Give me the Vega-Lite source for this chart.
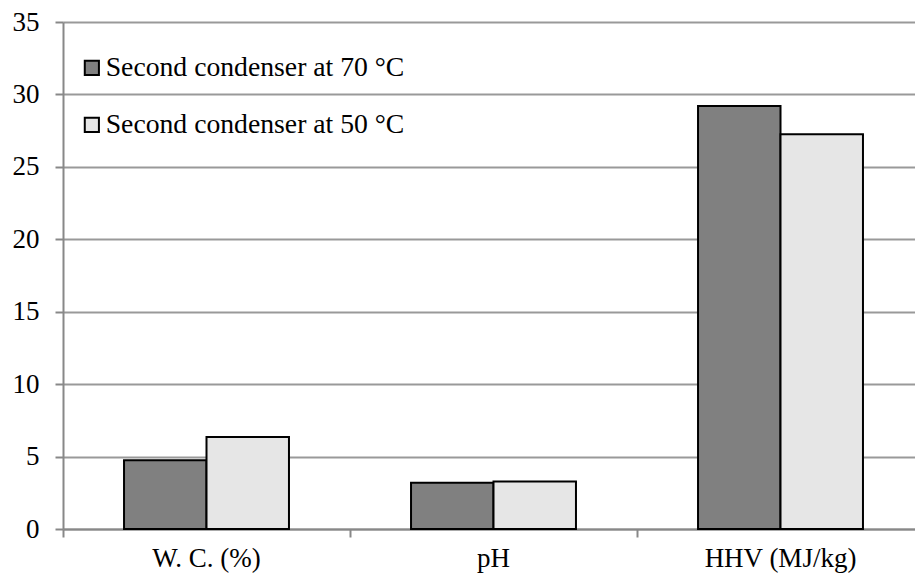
{
  "$schema": "https://vega.github.io/schema/vega-lite/v6.json",
  "autosize": {"type": "none"},
  "width": 852,
  "height": 507,
  "padding": {"left": 63, "top": 22, "right": 0, "bottom": 48},
  "background": "white",
  "config": {
    "view": {"stroke": null},
    "font": "Liberation Serif",
    "axis": {"labelFont": "Liberation Serif", "labelColor": "black", "titleFont": "Liberation Serif"},
    "legend": {"labelFont": "Liberation Serif"}
  },
  "data": {
    "values": [
      {"property": "W. C. (%)", "series": "Second condenser at 70 °C", "value": 4.75},
      {"property": "W. C. (%)", "series": "Second condenser at 50 °C", "value": 6.35},
      {"property": "pH", "series": "Second condenser at 70 °C", "value": 3.2},
      {"property": "pH", "series": "Second condenser at 50 °C", "value": 3.28},
      {"property": "HHV (MJ/kg)", "series": "Second condenser at 70 °C", "value": 29.2},
      {"property": "HHV (MJ/kg)", "series": "Second condenser at 50 °C", "value": 27.25}
    ]
  },
  "mark": {"type": "bar", "stroke": "black", "strokeWidth": 2},
  "encoding": {
    "x": {
      "field": "property",
      "type": "nominal",
      "sort": ["W. C. (%)", "pH", "HHV (MJ/kg)"],
      "scale": {"range": [0, 861], "paddingInner": 0, "paddingOuter": 0},
      "axis": {
        "title": null,
        "labelAngle": 0,
        "labelFontSize": 27,
        "labelPadding": 8,
        "bandPosition": 0,
        "tickSize": 8,
        "tickColor": "#888888",
        "tickWidth": 2,
        "domainColor": "#888888",
        "domainWidth": 2,
        "grid": false
      }
    },
    "xOffset": {
      "field": "series",
      "type": "nominal",
      "sort": ["Second condenser at 70 °C", "Second condenser at 50 °C"],
      "scale": {"paddingInner": 0, "paddingOuter": 0.74}
    },
    "y": {
      "field": "value",
      "type": "quantitative",
      "scale": {"domain": [0, 35], "nice": false},
      "axis": {
        "title": null,
        "values": [0, 5, 10, 15, 20, 25, 30, 35],
        "labelFontSize": 27,
        "labelPadding": 16,
        "tickSize": 8,
        "tickColor": "#888888",
        "tickWidth": 2,
        "domainColor": "#888888",
        "domainWidth": 2,
        "grid": true,
        "gridColor": "#999999",
        "gridWidth": 2
      }
    },
    "fill": {
      "field": "series",
      "type": "nominal",
      "sort": ["Second condenser at 70 °C", "Second condenser at 50 °C"],
      "scale": {"range": ["#808080", "#e6e6e6"]},
      "legend": {
        "title": null,
        "orient": "none",
        "legendX": 15,
        "legendY": 32,
        "labelFontSize": 27.7,
        "labelColor": "black",
        "labelOffset": 0,
        "labelLimit": 500,
        "symbolType": "square",
        "symbolSize": 200,
        "symbolStrokeColor": "black",
        "symbolStrokeWidth": 2,
        "rowPadding": 28,
        "padding": 0
      }
    }
  }
}
